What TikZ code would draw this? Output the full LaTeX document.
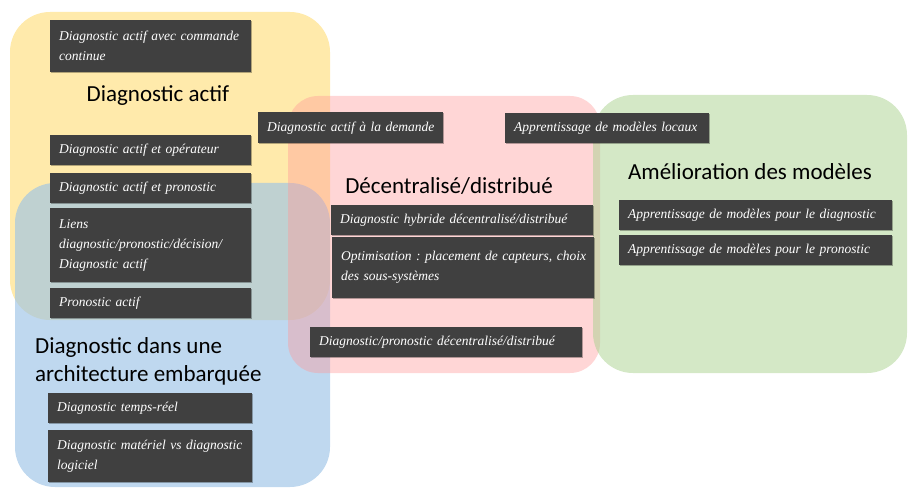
\documentclass[tikz,border=0pt]{standalone}
\usepackage{fontspec}
\newfontfamily\headfont{Carlito}
\newfontfamily\boxfont{Liberation Serif}
\usetikzlibrary{shadows}
\definecolor{yel}{HTML}{FFD966}
\definecolor{blu}{HTML}{9DC3E6}
\definecolor{pnk}{HTML}{FF9999}
\definecolor{grn}{HTML}{A9D18E}
\definecolor{boxgray}{HTML}{404040}
\newcommand\boxline[1]{\mbox{#1}}
\frenchspacing
\begin{document}
\begin{tikzpicture}[x=1pt,y=-1pt,
  dbox/.style={fill=boxgray, text=white, anchor=north west, inner xsep=9pt, inner ysep=0pt,
    align=left, font=\boxfont\itshape\fontsize{13.5}{20}\selectfont,
    drop shadow={shadow xshift=1.2pt, shadow yshift=-1.2pt, fill=black, opacity=0.3}},
  head/.style={font=\headfont\fontsize{23}{28}\selectfont, text=black, inner sep=0pt}]
\useasboundingbox (0,0) rectangle (908,489);
% regions
\fill[yel, fill opacity=0.55, rounded corners=40pt] (10,12) rectangle (330,320);
\fill[blu, fill opacity=0.65, rounded corners=40pt] (15,183) rectangle (330,487);
\fill[pnk, fill opacity=0.4, rounded corners=30pt] (288,96) rectangle (600,373);
\fill[grn, fill opacity=0.5, rounded corners=40pt] (593,95) rectangle (907,373);
% headings
\node[head] (h1) at (158,96) {Diagnostic actif};
\node[head, anchor=north west, align=left] (h2) at (35,337) {Diagnostic dans une\\architecture embarquée};
\node[head] (h3) at (449,186) {Décentralisé/distribué};
\node[head] (h4) at (750,172) {Amélioration des modèles};
% boxes
\node[dbox, text width=183pt, minimum height=52pt] (b1) at (50,20) {\boxline{Diagnostic actif avec commande}\\\boxline{continue}};
\node[dbox, text width=183pt, minimum height=30pt] (b2) at (50,135) {\boxline{Diagnostic actif et opérateur}};
\node[dbox, text width=183pt, minimum height=30pt] (b3) at (50,173) {\boxline{Diagnostic actif et pronostic}};
\node[dbox, text width=183pt, minimum height=74pt] (b4) at (50,208) {\boxline{Liens}\\\boxline{diagnostic/pronostic/décision/}\\\boxline{Diagnostic actif}};
\node[dbox, text width=183pt, minimum height=30pt] (b5) at (50,288) {\boxline{Pronostic actif}};
\node[dbox, text width=186pt, minimum height=30pt] (b6) at (48,393) {\boxline{Diagnostic temps-réel}};
\node[dbox, text width=186pt, minimum height=52pt] (b7) at (48,430) {\boxline{Diagnostic matériel vs diagnostic}\\\boxline{logiciel}};
\node[dbox, text width=167pt, minimum height=31pt] (b8) at (258,112) {\boxline{Diagnostic actif à la demande}};
\node[dbox, text width=186pt, minimum height=30pt] (b9) at (505,113) {\boxline{Apprentissage de modèles locaux}};
\node[dbox, text width=244pt, minimum height=30pt] (b10) at (331,205) {\boxline{Diagnostic hybride décentralisé/distribué}};
\node[dbox, text width=244pt, minimum height=61pt] (b11) at (332,237) {\boxline{Optimisation : placement de capteurs, choix}\\\boxline{des sous-systèmes}};
\node[dbox, text width=254pt, minimum height=30pt] (b12) at (310,327) {\boxline{Diagnostic/pronostic décentralisé/distribué}};
\node[dbox, text width=255pt, minimum height=30pt] (b13) at (619,200) {\boxline{Apprentissage de modèles pour le diagnostic}};
\node[dbox, text width=255pt, minimum height=30pt] (b14) at (619,235) {\boxline{Apprentissage de modèles pour le pronostic}};
\end{tikzpicture}
\end{document}
